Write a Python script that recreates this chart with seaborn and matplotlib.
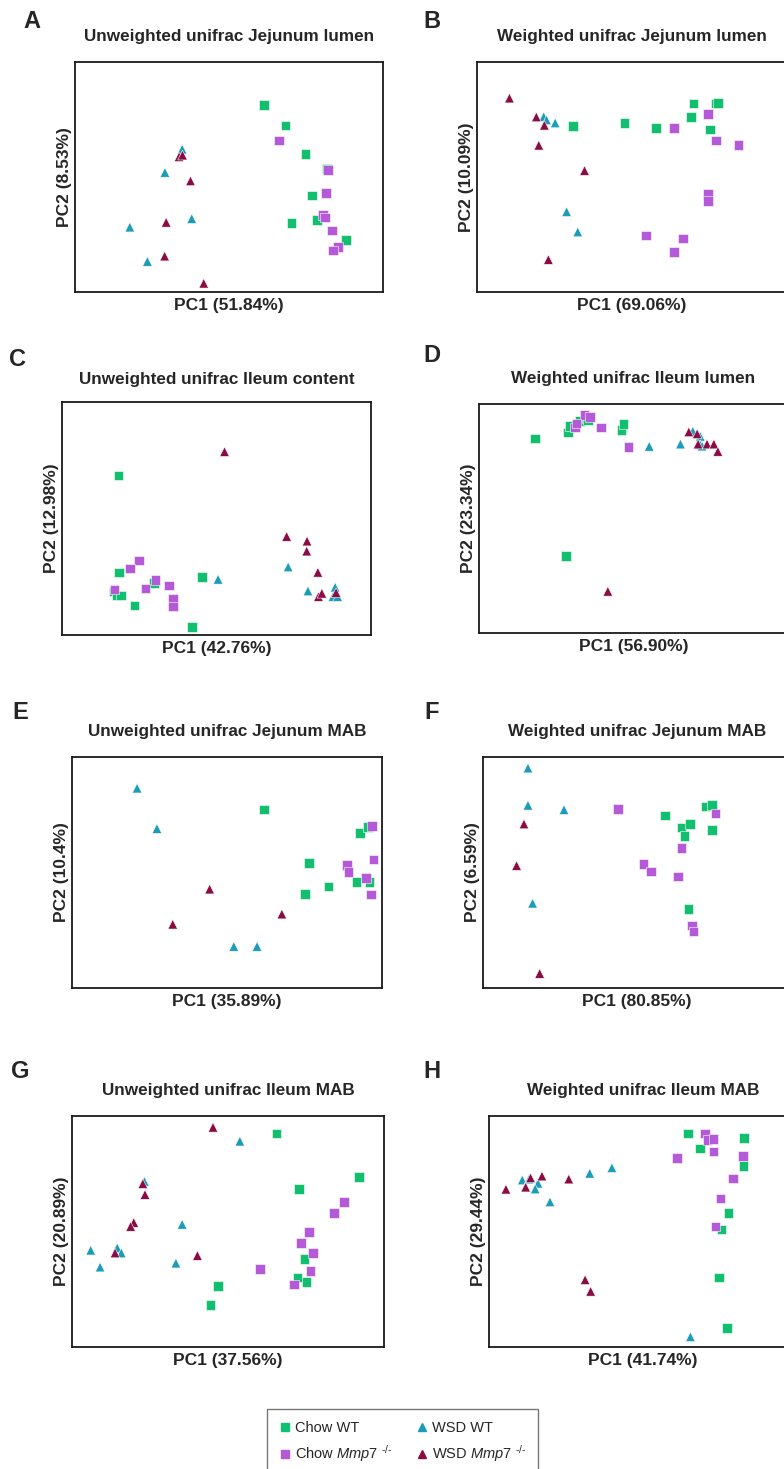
import numpy as np
import pandas as pd
import matplotlib
matplotlib.use("Agg")
import matplotlib.pyplot as plt
from matplotlib.lines import Line2D
import seaborn as sns

# group names and colours
groups = ["Chow WT", "Chow Mmp7", "WSD WT", "WSD Mmp7"]
palette = {"Chow WT": "#12BF6E", "Chow Mmp7": "#B45AD8",
           "WSD WT": "#1B9CB8", "WSD Mmp7": "#8A0C45"}
markers = {"Chow WT": "s", "Chow Mmp7": "s", "WSD WT": "^", "WSD Mmp7": "^"}

panel_letters = ["A", "B", "C", "D", "E", "F", "G", "H"]
panel_titles = ["Unweighted unifrac Jejunum lumen", "Weighted unifrac Jejunum lumen",
                "Unweighted unifrac Ileum content", "Weighted unifrac Ileum lumen",
                "Unweighted unifrac Jejunum MAB", "Weighted unifrac Jejunum MAB",
                "Unweighted unifrac Ileum MAB", "Weighted unifrac Ileum MAB"]
pc1_var = ["51.84%", "69.06%", "42.76%", "56.90%", "35.89%", "80.85%", "37.56%", "41.74%"]
pc2_var = ["8.53%", "10.09%", "12.98%", "23.34%", "10.4%", "6.59%", "20.89%", "29.44%"]

# (PC1, PC2) scores, rescaled to 0-100 per panel
a_chow_wt = [(61.3, 81.2), (68.4, 72.4), (74.8, 60.1), (81.8, 53.6), (77.0, 41.9), (70.3, 30.1), (78.6, 31.4), (87.9, 22.7)]
a_chow_mmp7 = [(66.3, 65.9), (82.1, 53.0), (81.5, 43.1), (80.6, 33.5), (81.2, 32.4), (83.4, 26.7), (85.4, 19.7), (83.8, 18.1)]
a_wsd_wt = [(34.8, 62.1), (29.2, 52.0), (37.9, 31.9), (17.8, 28.2), (23.5, 13.3)]
a_wsd_mmp7 = [(33.8, 58.8), (34.9, 59.5), (37.5, 48.3), (29.6, 30.3), (29.1, 15.6), (41.8, 3.8)]

b_chow_wt = [(31.0, 72.2), (47.7, 73.6), (58.0, 71.3), (70.1, 82.0), (69.3, 76.2), (77.2, 82.0), (77.9, 82.3), (75.4, 70.6)]
b_chow_mmp7 = [(63.7, 71.3), (74.8, 77.4), (77.3, 65.8), (84.6, 63.8), (74.7, 42.6), (74.7, 39.7), (54.7, 24.5), (66.6, 23.2), (63.7, 17.4)]
b_wsd_wt = [(21.6, 76.2), (22.5, 74.8), (25.3, 73.5), (29.0, 34.9), (32.6, 26.1)]
b_wsd_mmp7 = [(10.5, 84.3), (19.2, 76.1), (21.8, 72.5), (20.0, 63.8), (34.8, 52.8), (23.1, 14.1)]

c_chow_wt = [(18.3, 68.5), (18.4, 26.9), (16.7, 18.6), (17.8, 16.9), (19.1, 16.9), (29.8, 22.2), (23.5, 12.6), (45.4, 24.9), (42.0, 3.3)]
c_chow_mmp7 = [(24.9, 31.9), (22.0, 28.5), (30.2, 23.6), (27.0, 19.9), (34.6, 21.3), (17.0, 19.6), (36.0, 15.6), (36.0, 12.2)]
c_wsd_wt = [(50.5, 23.9), (73.2, 29.2), (79.6, 18.9), (88.4, 20.5), (87.7, 16.5), (89.2, 16.5)]
c_wsd_mmp7 = [(52.6, 78.7), (72.7, 42.3), (79.3, 40.3), (79.2, 36.0), (82.8, 26.9), (83.0, 16.5), (84.1, 17.9), (88.7, 18.2)]

d_chow_wt = [(18.2, 84.9), (28.1, 33.6), (28.8, 87.5), (29.4, 90.5), (32.7, 92.7), (34.8, 93.6), (35.2, 92.8), (46.1, 88.6), (46.8, 91.3)]
d_chow_mmp7 = [(31.1, 89.8), (34.1, 95.3), (35.9, 94.2), (39.4, 89.8), (48.4, 81.1), (31.5, 91.5)]
d_wsd_wt = [(55.1, 81.5), (65.2, 82.5), (69.2, 88.1), (71.6, 85.9), (71.6, 82.2), (72.2, 81.6)]
d_wsd_mmp7 = [(67.9, 87.8), (70.6, 87.0), (70.9, 82.5), (73.8, 82.5), (76.0, 82.5), (77.3, 79.3), (41.7, 18.2)]

e_chow_wt = [(61.9, 77.3), (76.5, 54.2), (75.2, 40.8), (82.8, 44.0), (91.8, 46.0), (92.9, 67.2), (95.5, 69.7), (96.0, 46.0)]
e_chow_mmp7 = [(96.8, 70.1), (97.2, 55.7), (88.7, 53.2), (89.2, 50.3), (94.8, 47.7), (96.4, 40.5)]
e_wsd_wt = [(21.0, 86.5), (27.4, 69.0), (52.2, 18.0), (59.7, 18.0)]
e_wsd_mmp7 = [(44.4, 42.8), (32.5, 27.6), (67.7, 32.0)]

f_chow_wt = [(59.1, 74.7), (64.5, 69.4), (67.2, 71.0), (65.4, 65.7), (72.2, 78.6), (74.4, 79.1), (74.4, 68.3), (66.7, 34.2)]
f_chow_mmp7 = [(43.8, 77.6), (75.5, 75.6), (64.4, 60.6), (52.1, 53.7), (54.5, 50.5), (63.3, 48.3), (67.9, 27.1), (68.3, 24.4)]
f_wsd_wt = [(14.6, 95.2), (14.6, 79.1), (26.3, 77.2), (16.1, 36.7)]
f_wsd_mmp7 = [(13.3, 71.0), (10.9, 53.0), (18.4, 6.3)]

g_chow_wt = [(65.5, 92.5), (91.9, 73.7), (72.7, 68.4), (74.5, 38.2), (72.3, 30.1), (75.2, 28.1), (46.7, 26.3), (44.4, 18.1)]
g_chow_mmp7 = [(87.1, 62.7), (84.0, 58.0), (76.0, 49.8), (73.3, 45.1), (77.2, 40.6), (76.5, 33.0), (71.2, 27.0), (60.2, 33.9)]
g_wsd_wt = [(53.8, 89.1), (23.2, 71.7), (35.3, 53.1), (6.0, 41.9), (14.5, 42.9), (15.8, 40.7), (9.0, 34.6), (33.3, 36.3)]
g_wsd_mmp7 = [(45.2, 95.1), (22.7, 70.7), (23.4, 66.0), (19.8, 53.9), (18.8, 52.2), (13.8, 40.7), (40.2, 39.6)]

h_chow_wt = [(64.6, 92.5), (68.5, 85.9), (82.8, 90.4), (82.6, 78.3), (77.8, 58.1), (75.5, 50.8), (74.6, 30.1), (77.2, 8.2)]
h_chow_mmp7 = [(70.2, 92.5), (70.9, 89.5), (72.9, 90.0), (72.9, 84.6), (61.0, 81.8), (82.4, 82.6), (79.3, 72.9), (75.2, 64.3), (73.5, 52.2)]
h_wsd_wt = [(10.8, 72.3), (13.0, 72.7), (15.9, 70.9), (15.0, 68.4), (19.8, 62.8), (32.7, 75.2), (39.9, 77.6), (65.4, 4.4)]
h_wsd_mmp7 = [(5.5, 68.3), (11.9, 69.2), (13.5, 73.2), (17.2, 74.0), (25.9, 72.7), (31.2, 29.1), (33.0, 24.1)]

panel_data = [
    [a_chow_wt, a_chow_mmp7, a_wsd_wt, a_wsd_mmp7],
    [b_chow_wt, b_chow_mmp7, b_wsd_wt, b_wsd_mmp7],
    [c_chow_wt, c_chow_mmp7, c_wsd_wt, c_wsd_mmp7],
    [d_chow_wt, d_chow_mmp7, d_wsd_wt, d_wsd_mmp7],
    [e_chow_wt, e_chow_mmp7, e_wsd_wt, e_wsd_mmp7],
    [f_chow_wt, f_chow_mmp7, f_wsd_wt, f_wsd_mmp7],
    [g_chow_wt, g_chow_mmp7, g_wsd_wt, g_wsd_mmp7],
    [h_chow_wt, h_chow_mmp7, h_wsd_wt, h_wsd_mmp7],
]

sns.set_style("white")
plt.rcParams["font.family"] = ["Liberation Sans", "DejaVu Sans"]
plt.rcParams["mathtext.fontset"] = "custom"
plt.rcParams["mathtext.rm"] = "Liberation Sans"
plt.rcParams["mathtext.it"] = "Liberation Sans:italic"

W, H = 784, 1469
fig = plt.figure(figsize=(W / 100, H / 100), dpi=100)

# axes boxes in pixels: left, top, right, bottom
boxes = [(75, 62, 383, 292), (477, 62, 786, 292),
         (62, 402, 371, 635), (479, 404, 788, 633),
         (72, 757, 382, 988), (483, 757, 791, 988),
         (72, 1116, 384, 1347), (489, 1116, 797, 1347)]
title_pad = [15, 15, 13, 15, 15, 15, 15, 15]
letter_pos = [(32, 21), (432, 21), (18, 360), (432, 355),
              (20, 712), (432, 712), (20, 1072), (432, 1072)]

for i, (l, t, r, b) in enumerate(boxes):
    ax = fig.add_axes([l / W, 1 - b / H, (r - l) / W, (b - t) / H])
    rows = []
    for g, pts in zip(groups, panel_data[i]):
        for x, y in pts:
            rows.append({"pc1": x, "pc2": y, "group": g})
    df = pd.DataFrame(rows)
    sns.scatterplot(data=df, x="pc1", y="pc2", hue="group", style="group",
                    palette=palette, markers=markers, s=48,
                    edgecolor="white", linewidth=0.4, legend=False, ax=ax)
    ax.set_xlim(0, 100)
    ax.set_ylim(0, 100)
    ax.set_xticks([])
    ax.set_yticks([])
    for sp in ax.spines.values():
        sp.set_visible(True)
        sp.set_color("#1a1a1a")
        sp.set_linewidth(1.3)
    ax.set_xlabel(f"PC1 ({pc1_var[i]})", fontsize=12.5, fontweight="bold", labelpad=4)
    ax.set_ylabel(f"PC2 ({pc2_var[i]})", fontsize=12.5, fontweight="bold", labelpad=2)
    ax.set_title(panel_titles[i], fontsize=12.3, fontweight="bold", pad=title_pad[i])
    lx, ly = letter_pos[i]
    fig.text(lx / W, 1 - ly / H, panel_letters[i], fontsize=17, fontweight="bold",
             ha="center", va="center")

legend_labels = ["Chow WT", "Chow $\\mathit{Mmp7}$ $^{\u2010/\u2010}$",
                 "WSD WT", "WSD $\\mathit{Mmp7}$ $^{\u2010/\u2010}$"]
handles = [Line2D([], [], linestyle="none", marker=markers[g], color=palette[g],
                  markersize=5.5) for g in groups]
fig.legend(handles, legend_labels, ncol=2, loc="upper center",
           bbox_to_anchor=(402.5 / W, 1 - 1409 / H), borderaxespad=0,
           frameon=True, fancybox=False,
           edgecolor="#555555", fontsize=10.5, handlelength=0.8, handletextpad=0.3,
           columnspacing=1.6, borderpad=0.85, labelspacing=0.55)

fig.savefig("out.png", dpi=100)
